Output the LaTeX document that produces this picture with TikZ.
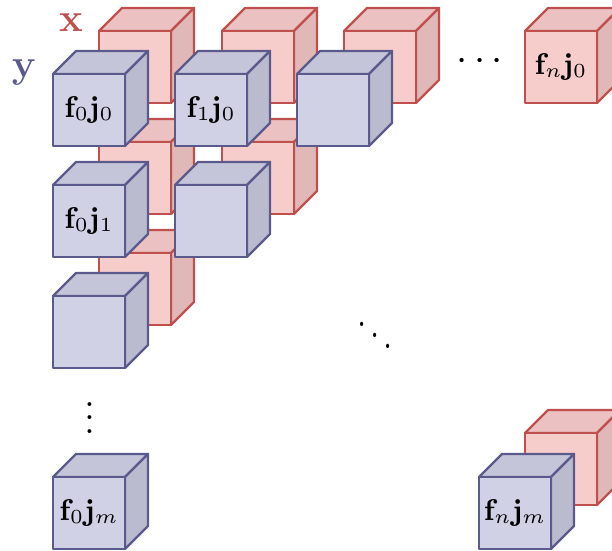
\documentclass[tikz,border=0pt]{standalone}
\usepackage{amsmath,amssymb}
\usepackage{xcolor}
\usepackage{tikz}
\definecolor{FLine}{HTML}{C0504D}
\definecolor{FFront}{HTML}{F7CDCB}
\definecolor{FTop}{HTML}{EBC1C1}
\definecolor{FSide}{HTML}{DFB8B7}
\definecolor{JLine}{HTML}{5A5A8C}
\definecolor{JFront}{HTML}{D1D1E6}
\definecolor{JTop}{HTML}{C5C5DA}
\definecolor{JSide}{HTML}{BBBBD0}
% cube with its front face at (#2,#3), colour set #1, node name #4, label #5
\newcommand{\drawcube}[5]{%
\filldraw[draw=#1Line,fill=#1Top] (#2,#3)--++(23,-23)--++(72,0)--++(-23,23)--cycle;
\filldraw[draw=#1Line,fill=#1Side] (#2+72,#3)--++(23,-23)--++(0,72)--++(-23,23)--cycle;
\filldraw[draw=#1Line,fill=#1Front] (#2,#3) rectangle ++(72,72);
\node[font=\small] (#4) at (#2+36,#3+36) {#5};}

\begin{document}
\begin{tikzpicture}[x=0.3pt,y=-0.3pt,line width=0.7pt,line join=round]
\useasboundingbox (0,0) rectangle (612,551);
% x cubes (behind)
\drawcube{F}{99}{31}{x00}{}
\drawcube{F}{222}{31}{x10}{}
\drawcube{F}{344}{31}{x20}{}
\drawcube{F}{525}{31}{xn0}{$\mathbf{f}_n\mathbf{j}_0$}
\drawcube{F}{99}{142}{x01}{}
\drawcube{F}{222}{142}{x11}{}
\drawcube{F}{99}{253}{x02}{}
\drawcube{F}{525}{433}{xnm}{}
% y cubes (front)
\drawcube{J}{53}{74}{y00}{$\mathbf{f}_0\mathbf{j}_0$}
\drawcube{J}{175}{74}{y10}{$\mathbf{f}_1\mathbf{j}_0$}
\drawcube{J}{297}{74}{y20}{}
\drawcube{J}{53}{185}{y01}{$\mathbf{f}_0\mathbf{j}_1$}
\drawcube{J}{175}{185}{y11}{}
\drawcube{J}{53}{296}{y02}{}
\drawcube{J}{53}{477}{y0m}{$\mathbf{f}_0\mathbf{j}_m$}
\drawcube{J}{479}{477}{ynm}{$\mathbf{f}_n\mathbf{j}_m$}
% axis names and dots
\node[text=FLine,font=\large] (xlab) at (71,23) {$\mathbf{x}$};
\node[text=JLine,font=\large] (ylab) at (24,73) {$\mathbf{y}$};
\node[font=\large] (hdots) at (483,62) {$\cdots$};
\node[font=\large,inner sep=0pt] (vdots) at (90,408) {$\vdots$};
\node[font=\large,xscale=0.85,yscale=1.1,transform shape] (ddots) at (375,324) {$\ddots$};
\end{tikzpicture}
\end{document}
